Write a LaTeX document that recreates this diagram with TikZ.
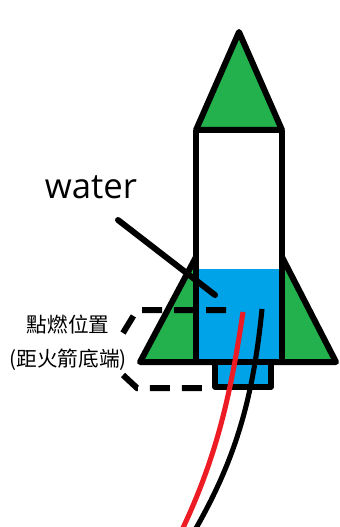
\documentclass[tikz,border=0pt]{standalone}
\usepackage{fontspec}
\setmainfont{Open Sans}
\newfontfamily\cjk{Noto Sans CJK TC}
\definecolor{paintgreen}{RGB}{34,177,76}
\definecolor{paintblue}{RGB}{0,162,232}
\definecolor{paintred}{RGB}{237,28,36}

\begin{document}
\begin{tikzpicture}[x=0.75pt,y=-0.75pt,
  outline/.style={line width=4.5pt,line join=round},
  dashline/.style={line width=4.5pt,dash pattern=on 15pt off 9pt},
  wire/.style={line width=3.8pt}]
\useasboundingbox (0,0) rectangle (339,527);

% fills first
\fill[paintblue] (196,269) rectangle (282,362);	%water
\fill[paintgreen] (196,257) -- (140,362) -- (196,362) -- cycle;	%left fin
\fill[paintgreen] (282,257) -- (336,362) -- (282,362) -- cycle;	%right fin

% nose cone
\filldraw[outline,fill=paintgreen] (196,130) -- (239,32) -- (282,130) -- cycle;

% body and fins
\draw[outline] (196,130) -- (196,362);
\draw[outline] (282,130) -- (282,362);
\draw[outline] (196,257) -- (140,362) -- (336,362) -- (282,257);
\filldraw[outline,line width=4pt,fill=paintblue] (215,362) rectangle (271,387);	%nozzle

% labels
\node (water) at (91,187) {\fontsize{26pt}{30pt}\selectfont water};
\node (ignite) at (68,325) {\cjk\fontsize{15.5pt}{18pt}\selectfont 點燃位置};
\node (ignitenote) at (68,360) {\cjk\fontsize{15.5pt}{18pt}\selectfont (距火箭底端)};

\coordinate (ptr1) at (118,220);
\coordinate (ptr2) at (215,295);
\draw[outline,line cap=round] (ptr1) -- (ptr2);

% ignition height brackets
\coordinate (up1) at (123,333);
\coordinate (up2) at (137,310);
\coordinate (up3) at (236,310);
\coordinate (lo1) at (123,375);
\coordinate (lo2) at (137,388);
\coordinate (lo3) at (212,388);
\draw[dashline] (up1) -- (up2) -- (up3);
\draw[dashline] (lo1) -- (lo2) -- (lo3);

% igniter wires
\coordinate (redtop) at (243,312);
\coordinate (blktop) at (262,309);
\draw[wire,paintred] (redtop) .. controls (230,400) and (215,460) .. (182,530);
\draw[wire] (blktop) .. controls (253,400) and (235,460) .. (195,530);
\end{tikzpicture}
\end{document}
